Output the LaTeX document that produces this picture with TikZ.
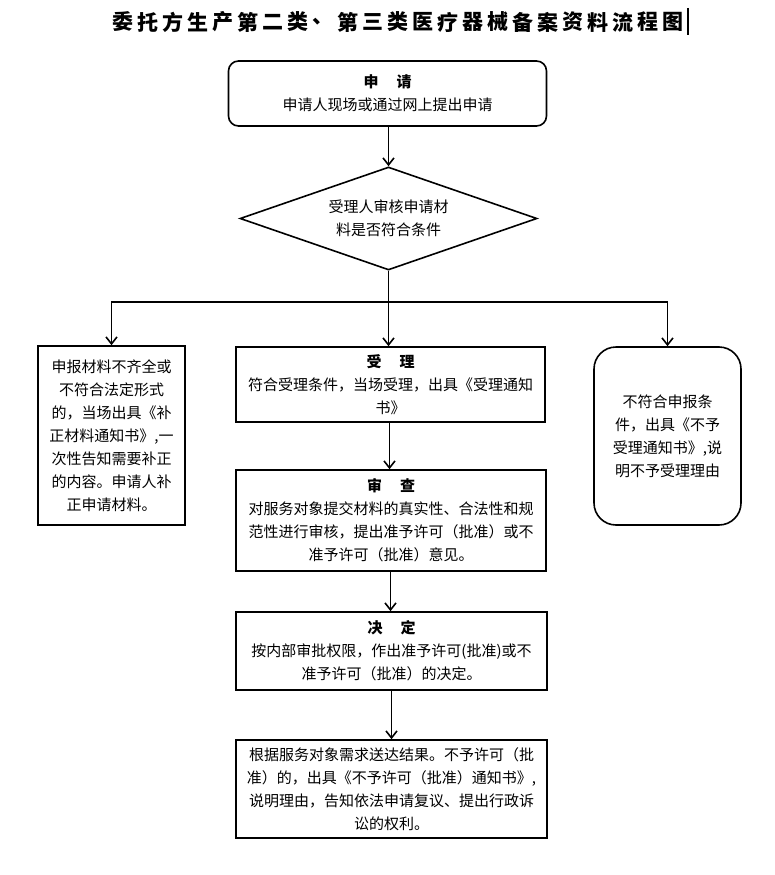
\documentclass[tikz,border=0pt]{standalone}
\usepackage{fontspec}
\setmainfont{Noto Sans CJK SC}
\usetikzlibrary{arrows.meta,shapes.geometric}
\tikzset{
  boxline/.style={draw=black, line width=1.6pt},
  stepbox/.style={boxline, rectangle, align=center, inner sep=0pt},
  roundbox/.style={stepbox, rounded corners=10pt},
  biground/.style={stepbox, rounded corners=22pt},
  decision/.style={boxline, diamond, aspect=2.88, align=center, inner sep=0pt},
  arr/.style={line width=1.6pt, -{Straight Barb[length=7pt,width=11pt]}},
  plain/.style={line width=1.6pt},
  titlechar/.style={font=\fontsize{21pt}{24pt}\selectfont\bfseries, inner sep=0pt},
}
\begin{document}
\begin{tikzpicture}[x=1pt,y=-1pt,font=\fontsize{15pt}{23pt}\selectfont]
\useasboundingbox (0,0) rectangle (774,875);
\fill[white] (0,0) rectangle (774,875);
% title
\foreach \c [count=\i] in {委,托,方,生,产,第,二,类,、,第,三,类,医,疗,器,械,备,案,资,料,流,程,图}
  \node[titlechar] (t\i) at ({110+12.5+25*(\i-1)},22) {\c};
\draw[line width=2pt] (688,8) -- (688,35);

\node[roundbox, minimum width=318pt, minimum height=65pt] (apply) at (387.5,93.5)
  {\textbf{申\hspace{1.2em}请}\\申请人现场或通过网上提出申请};
\node[decision, minimum width=297pt, minimum height=103pt] (dia) at (388.5,218.5)
  {受理人审核申请材\\料是否符合条件};
\node[stepbox, minimum width=147pt, minimum height=179pt] (left) at (111.5,435.5)
  {申报材料不齐全或\\不符合法定形式\\的，当场出具《补\\正材料通知书》,一\\次性告知需要补正\\的内容。申请人补\\正申请材料。};
\node[stepbox, minimum width=309pt, minimum height=75pt] (acc) at (390.5,384.5)
  {\textbf{受\hspace{1.2em}理}\\符合受理条件，当场受理，出具《受理通知\\书》};
\node[biground, minimum width=147pt, minimum height=178pt] (right) at (667.5,436)
  {不符合申报条\\件，出具《不予\\受理通知书》,说\\明不予受理理由};
\node[stepbox, minimum width=310pt, minimum height=101pt] (rev) at (391,520.5)
  {\textbf{审\hspace{1.2em}查}\\对服务对象提交材料的真实性、合法性和规\\范性进行审核，提出准予许可（批准）或不\\准予许可（批准）意见。};
\node[stepbox, minimum width=311pt, minimum height=78pt] (dec) at (391.5,651)
  {\textbf{决\hspace{1.2em}定}\\按内部审批权限，作出准予许可(批准)或不\\准予许可（批准）的决定。};
\node[stepbox, minimum width=311pt, minimum height=98pt] (res) at (391.5,789)
  {根据服务对象需求送达结果。不予许可（批\\准）的，出具《不予许可（批准）通知书》,\\说明理由，告知依法申请复议、提出行政诉\\讼的权利。};

% connectors
\draw[arr] (apply.south -| dia.north) -- (dia.north);
\coordinate (j) at (dia.south |- 0,302);
\draw[plain] (dia.south) -- (j);
\draw[arr] (j) -- (j |- acc.north);
\draw[arr] (j) -| (left.north);
\draw[arr] (j) -| (right.north);
\draw[arr] (acc.south -| 389.5,0) -- (389.5,0 |- rev.north);
\draw[arr] (rev.south -| 390.5,0) -- (390.5,0 |- dec.north);
\draw[arr] (dec.south -| 391.5,0) -- (391.5,0 |- res.north);
\end{tikzpicture}
\end{document}
